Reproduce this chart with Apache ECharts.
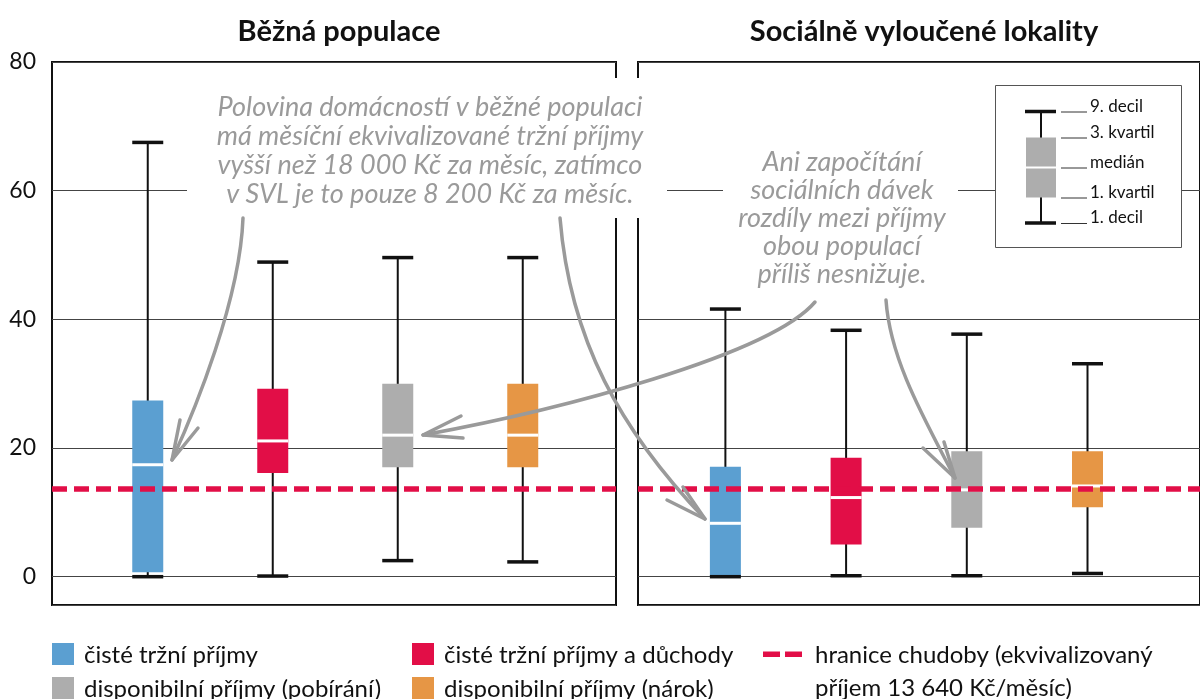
<!DOCTYPE html>
<html>
<head>
<meta charset="utf-8">
<script src="https://cdn.jsdelivr.net/npm/echarts@6/dist/echarts.min.js"></script>
<style>
  html, body { margin: 0; padding: 0; background: #fff; }
  #chart { width: 1200px; height: 699px; }
</style>
</head>
<body>
<div id="chart"></div>
<script>
// ---- data ----
const panelTitles = ['Běžná populace', 'Sociálně vyloučené lokality'];
const measures = ['čisté tržní příjmy', 'čisté tržní příjmy a důchody', 'disponibilní příjmy (pobírání)', 'disponibilní příjmy (nárok)'];
const measureColors = ['#5b9fd1', '#e20e47', '#adadad', '#e69645'];
// řádek = [1. decil, 1. kvartil, medián, 3. kvartil, 9. decil], tis. Kč za měsíc
const beznaPopulace = [
  [0.0, 0.7, 17.4, 27.4, 67.5],
  [0.1, 16.1, 21.1, 29.2, 48.9],
  [2.5, 17.0, 22.0, 30.0, 49.6],
  [2.3, 17.0, 22.0, 30.0, 49.6]
];
const svlPopulace = [
  [0.0, 0.0, 8.3, 17.1, 41.6],
  [0.15, 5.0, 12.3, 18.5, 38.3],
  [0.15, 7.6, 13.5, 19.5, 37.7],
  [0.5, 10.8, 14.1, 19.5, 33.1]
];
const povertyLine = 13.64;
const yTicks = [0, 20, 40, 60, 80];
const yMin = -4.4;
const yMax = 80;
const keyLabels = ['9. decil', '3. kvartil', 'medián', '1. kvartil', '1. decil'];
const noteBezna = [
  'Polovina domácností v běžné populaci',
  'má měsíční ekvivalizované tržní příjmy',
  'vyšší než 18 000 Kč za měsíc, zatímco',
  'v SVL je to pouze 8 200 Kč za měsíc.'
];
const noteSvl = ['Ani započítání', 'sociálních dávek', 'rozdíly mezi příjmy', 'obou populací', 'příliš nesnižuje.'];
const povertyLabel = ['hranice chudoby (ekvivalizovaný', 'příjem 13 640 Kč/měsíc)'];

const chart = echarts.init(document.getElementById('chart'));
const FONT = 'Lato, "Noto Sans", sans-serif';
const NOTE_GRAY = '#9a9a9a';

// vykreslení jednoho boxu: whisker, box, medián, koncovky
function renderBox(params, api) {
  const x = api.value(0);
  const pt = v => api.coord([x, v]);
  const [cx, yD1] = pt(api.value(1));
  const yQ1 = pt(api.value(2))[1];
  const yMed = pt(api.value(3))[1];
  const yQ3 = pt(api.value(4))[1];
  const yD9 = pt(api.value(5))[1];
  const w = 31;
  return {
    type: 'group',
    children: [
      { type: 'line', shape: { x1: cx, y1: yD9, x2: cx, y2: yD1 }, style: { stroke: '#111', lineWidth: 2 } },
      { type: 'rect', shape: { x: cx - w / 2, y: yQ3, width: w, height: yQ1 - yQ3 }, style: { fill: measureColors[params.dataIndex] } },
      { type: 'rect', shape: { x: cx - w / 2, y: yMed - 1.5, width: w, height: 3 }, style: { fill: '#fff' } },
      { type: 'rect', shape: { x: cx - w / 2, y: yD9 - 1.75, width: w, height: 3.5 }, style: { fill: '#111' } },
      { type: 'rect', shape: { x: cx - w / 2, y: yD1 - 1.75, width: w, height: 3.5 }, style: { fill: '#111' } }
    ]
  };
}

function yAxisFor(grid, showLabels) {
  return {
    type: 'value', gridIndex: grid, min: yMin, max: yMax, splitNumber: 4,
    axisLine: { show: false }, axisTick: { show: false },
    axisLabel: {
      show: showLabels, margin: 16, fontSize: 23, fontFamily: FONT, color: '#111',
      formatter: v => (yTicks.indexOf(v) >= 0 ? String(v) : '')
    },
    splitLine: { lineStyle: { color: '#444', width: 1 } }
  };
}

function arrow(p0, c1, c2, p3, b1, b2) {
  const st = { stroke: NOTE_GRAY, lineWidth: 3.5, fill: null, lineCap: 'round', lineJoin: 'round' };
  return [
    { type: 'bezierCurve', z: 12, shape: { x1: p0[0], y1: p0[1], cpx1: c1[0], cpy1: c1[1], cpx2: c2[0], cpy2: c2[1], x2: p3[0], y2: p3[1] }, style: st },
    { type: 'polyline', z: 12, shape: { points: [b1, p3, b2] }, style: st }
  ];
}

// klíč (vysvětlivka boxplotu)
const keyLevels = [111.5, 137.5, 167.5, 197.5, 223];
const keyEls = [
  { type: 'rect', z: 10, shape: { x: 995.5, y: 85.5, width: 186, height: 162 }, style: { fill: '#fff', stroke: '#555', lineWidth: 1 } },
  { type: 'line', z: 11, shape: { x1: 1041, y1: keyLevels[0], x2: 1041, y2: keyLevels[4] }, style: { stroke: '#111', lineWidth: 2 } },
  { type: 'rect', z: 11, shape: { x: 1026, y: keyLevels[1], width: 30, height: keyLevels[3] - keyLevels[1] }, style: { fill: measureColors[2] } },
  { type: 'rect', z: 11, shape: { x: 1026, y: keyLevels[2] - 1, width: 30, height: 2 }, style: { fill: '#fff' } },
  { type: 'rect', z: 11, shape: { x: 1025, y: keyLevels[0] - 1.75, width: 31, height: 3.5 }, style: { fill: '#111' } },
  { type: 'rect', z: 11, shape: { x: 1025, y: keyLevels[4] - 1.75, width: 31, height: 3.5 }, style: { fill: '#111' } }
];
keyLabels.forEach((t, i) => {
  keyEls.push({ type: 'line', z: 11, shape: { x1: 1061, y1: keyLevels[i] + 0.5, x2: 1087, y2: keyLevels[i] + 0.5 }, style: { stroke: '#333', lineWidth: 1 } });
  keyEls.push({ type: 'text', z: 11, style: { text: t, x: 1090, y: keyLevels[i] - 5, verticalAlign: 'middle', fontSize: 17, fontFamily: FONT, fill: '#111' } });
});

// spodní legenda
const legendEls = [];
const legendPos = [[52, 643], [412, 643], [52, 677], [412, 677]];
measures.forEach((m, i) => {
  const [lx, ly] = legendPos[i];
  legendEls.push({ type: 'rect', shape: { x: lx, y: ly, width: 22, height: 22 }, style: { fill: measureColors[i] } });
  legendEls.push({ type: 'text', style: { text: m, x: lx + 32, y: ly + 12, verticalAlign: 'middle', fontSize: 24, fontFamily: FONT, fill: '#111' } });
});
legendEls.push({ type: 'rect', shape: { x: 763, y: 651.5, width: 17, height: 5.5 }, style: { fill: measureColors[1] } });
legendEls.push({ type: 'rect', shape: { x: 785, y: 651.5, width: 17, height: 5.5 }, style: { fill: measureColors[1] } });
legendEls.push({ type: 'text', style: { text: povertyLabel.join('\n'), x: 815, y: 672, verticalAlign: 'middle', lineHeight: 33, fontSize: 24, fontFamily: FONT, fill: '#111' } });

const noteStyle = { align: 'center', verticalAlign: 'middle', fontSize: 27, fontStyle: 'italic', fontFamily: FONT, fill: NOTE_GRAY };
const titleStyle = { fontSize: 29, fontWeight: 'bold', fontFamily: FONT, color: '#111' };

const option = {
  animation: false,
  title: [
    { text: panelTitles[0], left: 334, top: 12, textAlign: 'center', textStyle: titleStyle },
    { text: panelTitles[1], left: 919, top: 12, textAlign: 'center', textStyle: titleStyle }
  ],
  grid: [
    { left: 52, top: 62, width: 564, height: 543, show: true, borderColor: '#111', borderWidth: 2 },
    { left: 638, top: 62, width: 582, height: 543, show: true, borderColor: '#111', borderWidth: 2 }
  ],
  xAxis: [
    { type: 'value', gridIndex: 0, min: 0.234, max: 4.746, show: false },
    { type: 'value', gridIndex: 1, min: 0.276, max: 4.932, show: false }
  ],
  yAxis: [yAxisFor(0, true), yAxisFor(1, false)],
  series: [beznaPopulace, svlPopulace].map((rows, g) => ({
    type: 'custom',
    name: panelTitles[g],
    xAxisIndex: g,
    yAxisIndex: g,
    renderItem: renderBox,
    data: rows.map((r, i) => [i + 1].concat(r))
  })).concat([0, 1].map(g => ({
    type: 'line',
    name: 'hranice chudoby',
    xAxisIndex: g,
    yAxisIndex: g,
    z: 5,
    data: [],
    markLine: {
      silent: true, symbol: 'none', label: { show: false },
      lineStyle: { color: measureColors[1], width: 5.5, type: [15, 7] },
      data: [{ yAxis: povertyLine }]
    }
  }))),
  graphic: {
    elements: [
      // bílé podklady pod poznámkami
      { type: 'rect', z: 10, shape: { x: 187, y: 78, width: 480, height: 140 }, style: { fill: '#fff' } },
      { type: 'rect', z: 10, shape: { x: 723, y: 145, width: 235, height: 150 }, style: { fill: '#fff' } },
      { type: 'text', z: 11, style: Object.assign({ text: noteBezna.join('\n'), x: 430, y: 151, lineHeight: 29 }, noteStyle) },
      { type: 'text', z: 11, style: Object.assign({ text: noteSvl.join('\n'), x: 842, y: 218, lineHeight: 28 }, noteStyle) }
    ]
      .concat(arrow([243, 218], [240, 300], [195, 410], [172, 460], [180, 420], [198, 428]))
      .concat(arrow([560, 218], [570, 340], [620, 430], [705, 519], [667, 500], [683, 487]))
      .concat(arrow([815, 302], [770, 355], [560, 410], [423, 435], [461, 416], [463, 438]))
      .concat(arrow([886, 300], [890, 360], [925, 420], [955, 478], [923, 448], [944, 442]))
      .concat(keyEls)
      .concat(legendEls)
  }
};

chart.setOption(option);
</script>
</body>
</html>
